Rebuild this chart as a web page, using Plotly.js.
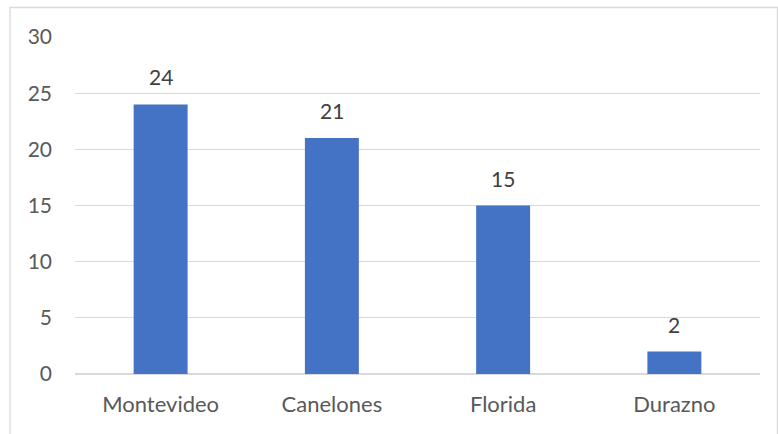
<!DOCTYPE html>
<html><head><meta charset="utf-8">
<script src="https://cdn.plot.ly/plotly-3.0.1.min.js"></script>
<style>html,body{margin:0;padding:0;background:#fff}#chart{width:778px;height:434px}</style>
</head><body><div id="chart"></div>
<script>
const categories = ["Montevideo", "Canelones", "Florida", "Durazno"];
const values = [24, 21, 15, 2];
const yTicks = [0, 5, 10, 15, 20, 25, 30];

const W = 778, H = 434, L = 75, R = 18, T = 37, B = 60;
const pw = W - L - R, ph = H - T - B;

Plotly.newPlot('chart', [{
  type: 'bar', x: categories, y: values,
  marker: {color: '#4472C4'},
  hoverinfo: 'none'
}], {
  width: W, height: H,
  margin: {l: L, r: R, t: T, b: B, pad: 0},
  paper_bgcolor: '#fff', plot_bgcolor: '#fff',
  bargap: 0.685,
  font: {family: 'Lato, sans-serif', size: 21, color: '#595959'},
  xaxis: {showgrid: false, showline: false, zeroline: false, ticks: '', ticklabelstandoff: 15, fixedrange: true,
          tickfont: {family: 'Lato, sans-serif', size: 22, color: '#595959'}},
  yaxis: {range: [0, 30], tickvals: yTicks, ticktext: yTicks.map(String), showgrid: true, gridcolor: '#D9D9D9', gridwidth: 1.3,
          zeroline: true, zerolinecolor: '#D9D9D9', zerolinewidth: 1.3, showline: false, ticks: '', ticklabelstandoff: 22, fixedrange: true},
  annotations: categories.map((c, i) => ({
    x: c, y: values[i], xref: 'x', yref: 'y', text: String(values[i]),
    showarrow: false, yanchor: 'bottom', yshift: 13,
    font: {family: 'Lato, sans-serif', size: 21, color: '#404040'}
  })),
  shapes: [{type: 'rect', xref: 'paper', yref: 'paper',
    x0: (10 - L) / pw, x1: (777.5 - L) / pw, y0: -(440 - (H - B)) / ph, y1: 1 + (T - 7.5) / ph,
    line: {color: '#D9D9D9', width: 1.3}}],
  showlegend: false
}, {displayModeBar: false, staticPlot: true});
</script></body></html>
